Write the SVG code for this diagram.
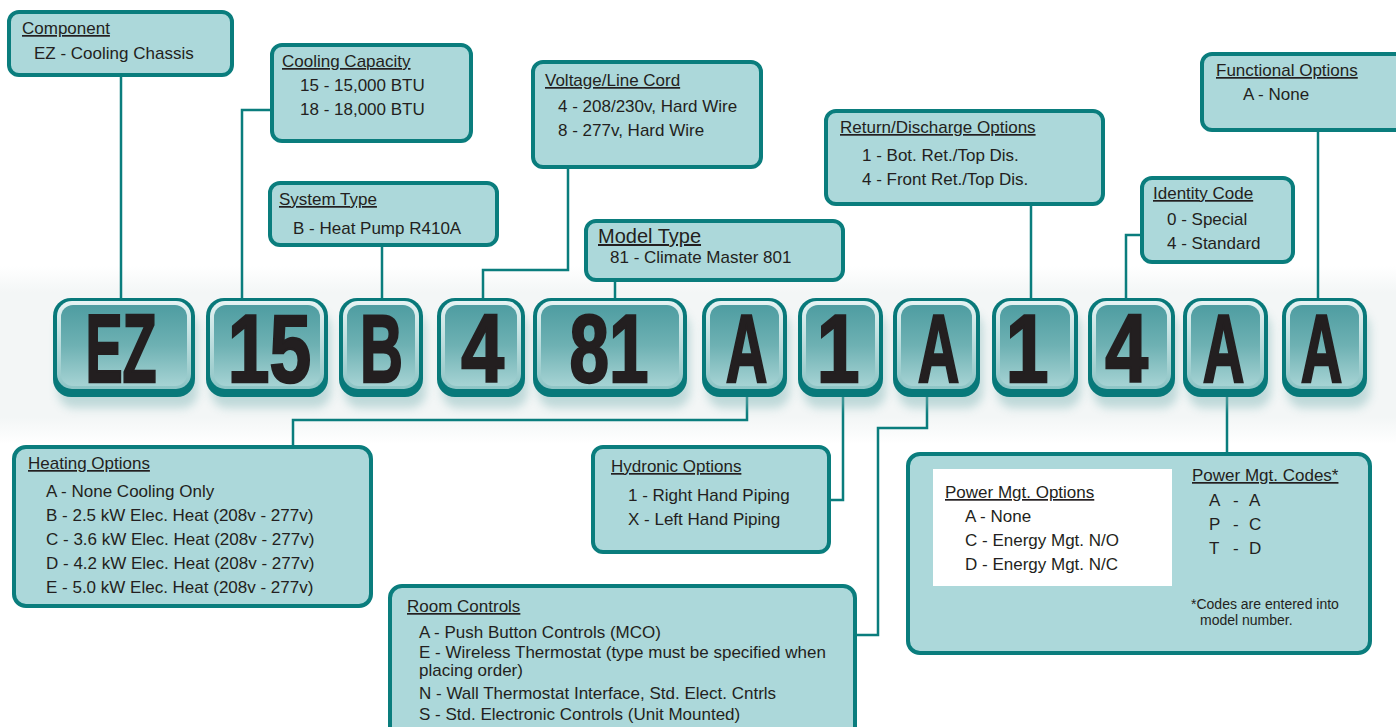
<svg xmlns="http://www.w3.org/2000/svg" width="1396" height="727" viewBox="0 0 1396 727">
<defs>
<linearGradient id="band" x1="0" y1="0" x2="0" y2="1">
<stop offset="0" stop-color="#ffffff"/>
<stop offset="0.15" stop-color="#f3f6f6"/>
<stop offset="0.85" stop-color="#f3f6f6"/>
<stop offset="1" stop-color="#ffffff"/>
</linearGradient>
<linearGradient id="face" x1="0" y1="0" x2="0" y2="1">
<stop offset="0" stop-color="#4e9da1"/>
<stop offset="0.5" stop-color="#6eb1b3"/>
<stop offset="1" stop-color="#a6d3d4"/>
</linearGradient>
<linearGradient id="bevel" x1="0" y1="0" x2="0" y2="1">
<stop offset="0" stop-color="#e6f3f3"/>
<stop offset="1" stop-color="#8cc4c5"/>
</linearGradient>
<filter id="sh" x="-20%" y="-20%" width="140%" height="160%">
<feGaussianBlur stdDeviation="5"/>
</filter>
<style>
.box{fill:#acd8da;stroke:#0a7d7d;stroke-width:4}
.t{font-family:"Liberation Sans",Arial,sans-serif;font-size:17px;fill:#231f20}
.h{text-decoration:underline}
.big{font-size:20px}
.sm{font-size:14px}
.code{font-family:"Liberation Sans",Arial,sans-serif;font-weight:700;font-size:96px;fill:#231f20;stroke:#231f20;stroke-width:2.5;text-anchor:middle}
.tout{fill:#08797a}
.tbev{fill:url(#bevel)}
.tface{fill:url(#face)}
.tsh{fill:#7fb5b6;opacity:0.45;filter:url(#sh)}
#connectors path{fill:none;stroke:#0a7d7d;stroke-width:2.5}
</style>
</defs>
<rect x="0" y="266" width="1396" height="178" fill="url(#band)"/>

<g id="connectors">
<path d="M121,75 V300"/>
<path d="M272,110 H242 V300"/>
<path d="M382,245 V300"/>
<path d="M568,167 V270 H483 V300"/>
<path d="M615,280 V300"/>
<path d="M1031,204 V300"/>
<path d="M1142,235 H1126 V300"/>
<path d="M1318,130 V300"/>
<path d="M747,395 V420 H293 V447"/>
<path d="M843,395 V500 H829"/>
<path d="M927,395 V428 H878 V635 H855"/>
<path d="M1227,395 V454"/>
</g>

<g id="tiles">
<g id="tile-EZ"><rect class="tsh" x="58" y="312" width="140" height="96" rx="16"/><rect class="tout" x="53" y="298" width="142" height="99" rx="18"/><rect class="tbev" x="57" y="301" width="134" height="88" rx="15"/><rect class="tface" x="61" y="305" width="126" height="81" rx="12"/><text class="code" transform="translate(121,382) scale(0.58,1)">EZ</text></g>
<g id="tile-15"><rect class="tsh" x="211" y="312" width="120" height="96" rx="16"/><rect class="tout" x="206" y="298" width="122" height="99" rx="18"/><rect class="tbev" x="210" y="301" width="114" height="88" rx="15"/><rect class="tface" x="214" y="305" width="106" height="81" rx="12"/><text class="code" transform="translate(269.5,382) scale(0.78,1)">15</text></g>
<g id="tile-B"><rect class="tsh" x="344" y="312" width="82" height="96" rx="16"/><rect class="tout" x="339" y="298" width="84" height="99" rx="18"/><rect class="tbev" x="343" y="301" width="76" height="88" rx="15"/><rect class="tface" x="347" y="305" width="68" height="81" rx="12"/><text class="code" transform="translate(381.5,382) scale(0.62,1)">B</text></g>
<g id="tile-4a"><rect class="tsh" x="442" y="312" width="86" height="96" rx="16"/><rect class="tout" x="437" y="298" width="88" height="99" rx="18"/><rect class="tbev" x="441" y="301" width="80" height="88" rx="15"/><rect class="tface" x="445" y="305" width="72" height="81" rx="12"/><text class="code" transform="translate(482.5,382) scale(0.8,1)">4</text></g>
<g id="tile-81"><rect class="tsh" x="538" y="312" width="152" height="96" rx="16"/><rect class="tout" x="533" y="298" width="154" height="99" rx="18"/><rect class="tbev" x="537" y="301" width="146" height="88" rx="15"/><rect class="tface" x="541" y="305" width="138" height="81" rx="12"/><text class="code" transform="translate(609,382) scale(0.74,1)">81</text></g>
<g id="tile-A1"><rect class="tsh" x="707" y="312" width="83" height="96" rx="16"/><rect class="tout" x="702" y="298" width="85" height="99" rx="18"/><rect class="tbev" x="706" y="301" width="77" height="88" rx="15"/><rect class="tface" x="710" y="305" width="69" height="81" rx="12"/><text class="code" transform="translate(746.5,382) scale(0.6,1)">A</text></g>
<g id="tile-1a"><rect class="tsh" x="803" y="312" width="83" height="96" rx="16"/><rect class="tout" x="798" y="298" width="85" height="99" rx="18"/><rect class="tbev" x="802" y="301" width="77" height="88" rx="15"/><rect class="tface" x="806" y="305" width="69" height="81" rx="12"/><text class="code" transform="translate(838,382) scale(0.8,1)">1</text></g>
<g id="tile-A2"><rect class="tsh" x="898" y="312" width="85" height="96" rx="16"/><rect class="tout" x="893" y="298" width="87" height="99" rx="18"/><rect class="tbev" x="897" y="301" width="79" height="88" rx="15"/><rect class="tface" x="901" y="305" width="71" height="81" rx="12"/><text class="code" transform="translate(938.5,382) scale(0.6,1)">A</text></g>
<g id="tile-1b"><rect class="tsh" x="997" y="312" width="84" height="96" rx="16"/><rect class="tout" x="992" y="298" width="86" height="99" rx="18"/><rect class="tbev" x="996" y="301" width="78" height="88" rx="15"/><rect class="tface" x="1000" y="305" width="70" height="81" rx="12"/><text class="code" transform="translate(1027,382) scale(0.8,1)">1</text></g>
<g id="tile-4b"><rect class="tsh" x="1093" y="312" width="85" height="96" rx="16"/><rect class="tout" x="1088" y="298" width="87" height="99" rx="18"/><rect class="tbev" x="1092" y="301" width="79" height="88" rx="15"/><rect class="tface" x="1096" y="305" width="71" height="81" rx="12"/><text class="code" transform="translate(1126.5,382) scale(0.8,1)">4</text></g>
<g id="tile-A3"><rect class="tsh" x="1188" y="312" width="83" height="96" rx="16"/><rect class="tout" x="1183" y="298" width="85" height="99" rx="18"/><rect class="tbev" x="1187" y="301" width="77" height="88" rx="15"/><rect class="tface" x="1191" y="305" width="69" height="81" rx="12"/><text class="code" transform="translate(1223.5,382) scale(0.6,1)">A</text></g>
<g id="tile-A4"><rect class="tsh" x="1287" y="312" width="83" height="96" rx="16"/><rect class="tout" x="1282" y="298" width="85" height="99" rx="18"/><rect class="tbev" x="1286" y="301" width="77" height="88" rx="15"/><rect class="tface" x="1290" y="305" width="69" height="81" rx="12"/><text class="code" transform="translate(1321.5,382) scale(0.6,1)">A</text></g>
</g>

<g id="component">
<rect class="box" x="9" y="12" width="223" height="63" rx="10"/>
<text class="t h" x="22" y="34">Component</text>
<text class="t" x="34" y="59">EZ - Cooling Chassis</text>
</g>
<g id="cooling-capacity">
<rect class="box" x="272" y="45" width="199" height="96" rx="10"/>
<text class="t h" x="282" y="67">Cooling Capacity</text>
<text class="t" x="300" y="91">15 - 15,000 BTU</text>
<text class="t" x="300" y="115">18 - 18,000 BTU</text>
</g>
<g id="system-type">
<rect class="box" x="270" y="183" width="227" height="62" rx="10"/>
<text class="t h" x="279" y="205">System Type</text>
<text class="t" x="293" y="234">B - Heat Pump R410A</text>
</g>
<g id="voltage">
<rect class="box" x="533" y="62" width="228" height="105" rx="10"/>
<text class="t h" x="545" y="86">Voltage/Line Cord</text>
<text class="t" x="558" y="112">4 - 208/230v, Hard Wire</text>
<text class="t" x="558" y="136">8 - 277v, Hard Wire</text>
</g>
<g id="model-type">
<rect class="box" x="586" y="221" width="257" height="59" rx="10"/>
<text class="t h big" x="598" y="243">Model Type</text>
<text class="t" x="610" y="263">81 - Climate Master 801</text>
</g>
<g id="return-discharge">
<rect class="box" x="826" y="111" width="277" height="93" rx="10"/>
<text class="t h" x="840" y="133">Return/Discharge Options</text>
<text class="t" x="862" y="161">1 - Bot. Ret./Top Dis.</text>
<text class="t" x="862" y="185">4 - Front Ret./Top Dis.</text>
</g>
<g id="identity-code">
<rect class="box" x="1142" y="178" width="151" height="84" rx="10"/>
<text class="t h" x="1153" y="199">Identity Code</text>
<text class="t" x="1167" y="225">0 - Special</text>
<text class="t" x="1167" y="249">4 - Standard</text>
</g>
<g id="functional-options">
<rect class="box" x="1202" y="54" width="210" height="76" rx="10"/>
<text class="t h" x="1216" y="76">Functional Options</text>
<text class="t" x="1243" y="100">A - None</text>
</g>
<g id="heating-options">
<rect class="box" x="14" y="447" width="357" height="159" rx="12"/>
<text class="t h" x="28" y="469">Heating Options</text>
<text class="t" x="46" y="497">A - None Cooling Only</text>
<text class="t" x="46" y="521">B - 2.5 kW Elec. Heat (208v - 277v)</text>
<text class="t" x="46" y="545">C - 3.6 kW Elec. Heat (208v - 277v)</text>
<text class="t" x="46" y="569">D - 4.2 kW Elec. Heat (208v - 277v)</text>
<text class="t" x="46" y="593">E - 5.0 kW Elec. Heat (208v - 277v)</text>
</g>
<g id="hydronic-options">
<rect class="box" x="593" y="447" width="236" height="105" rx="10"/>
<text class="t h" x="611" y="472">Hydronic Options</text>
<text class="t" x="628" y="501">1 - Right Hand Piping</text>
<text class="t" x="628" y="525">X - Left Hand Piping</text>
</g>
<g id="room-controls">
<rect class="box" x="390" y="586" width="465" height="160" rx="12"/>
<text class="t h" x="407" y="612">Room Controls</text>
<text class="t" x="419" y="638">A - Push Button Controls (MCO)</text>
<text class="t" x="419" y="658">E - Wireless Thermostat (type must be specified when</text>
<text class="t" x="419" y="676">placing order)</text>
<text class="t" x="419" y="699">N - Wall Thermostat Interface, Std. Elect. Cntrls</text>
<text class="t" x="419" y="720">S - Std. Electronic Controls (Unit Mounted)</text>
</g>
<g id="power-mgt">
<rect class="box" x="908" y="454" width="462" height="199" rx="12"/>
<rect x="933" y="469" width="239" height="117" fill="#ffffff"/>
<text class="t h" x="945" y="498">Power Mgt. Options</text>
<text class="t" x="965" y="522">A - None</text>
<text class="t" x="965" y="546">C - Energy Mgt. N/O</text>
<text class="t" x="965" y="570">D - Energy Mgt. N/C</text>
<text class="t h" x="1192" y="481">Power Mgt. Codes*</text>
<text class="t" x="1209" y="506">A</text><text class="t" x="1233" y="506">-</text><text class="t" x="1249" y="506">A</text>
<text class="t" x="1209" y="530">P</text><text class="t" x="1233" y="530">-</text><text class="t" x="1249" y="530">C</text>
<text class="t" x="1209" y="554">T</text><text class="t" x="1233" y="554">-</text><text class="t" x="1249" y="554">D</text>
<text class="t sm" x="1191" y="609">*Codes are entered into</text>
<text class="t sm" x="1200" y="625">model number.</text>
</g>
</svg>
